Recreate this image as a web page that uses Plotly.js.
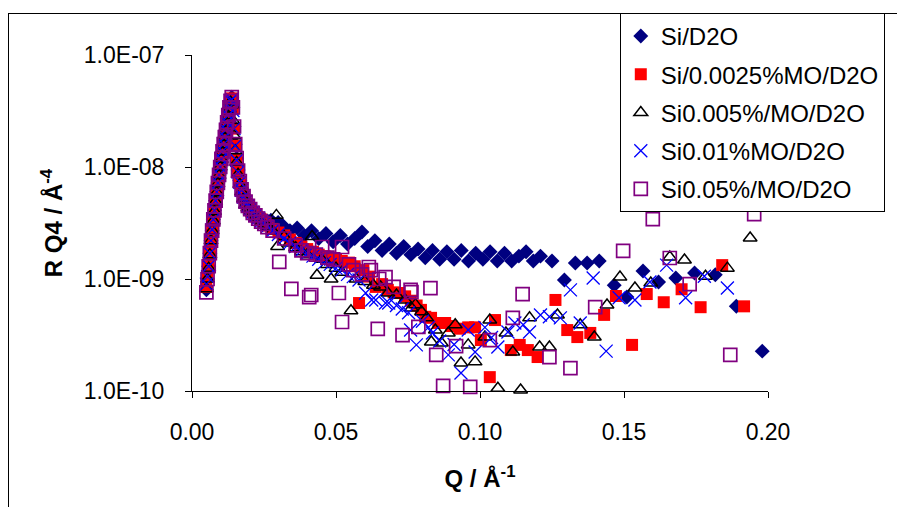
<!DOCTYPE html>
<html>
<head>
<meta charset="utf-8">
<script src="https://cdn.plot.ly/plotly-3.0.1.min.js"></script>
<style>
  html, body { margin: 0; padding: 0; background: #fff; }
  #chart { width: 897px; height: 507px; position: relative; }
  #frame { position: absolute; left: 8px; top: 13px; width: 1000px; height: 600px;
           border-left: 1px solid #000; border-top: 1px solid #000; pointer-events: none; }
</style>
</head>
<body>
<div id="chart"></div>
<div id="frame"></div>
<script>
// ---- Data ----
const seriesNames = ["Si/D2O", "Si/0.0025%MO/D2O", "Si0.005%/MO/D2O", "Si0.01%MO/D2O", "Si0.05%/MO/D2O"];

// Shared Q grid for the dense low-Q region (critical edge)
const qEarly = [0.0050,0.0054,0.0058,0.0062,0.0066,0.0070,0.0074,0.0078,0.0082,0.0086,0.0090,0.0094,0.0098,0.0102,0.0106,0.0110,0.0114,0.0118,0.0122,0.0126,0.0130,0.0134,0.0138,0.0142,0.0146,0.0150,0.0155,0.0160,0.0166,0.0172,0.0179,0.0186,0.0194,0.0202,0.0211,0.0220,0.0230,0.0240,0.0251];

const rEarlySiD2O = [8.0e-10,1.0e-9,1.3e-9,1.7e-9,2.2e-9,2.7e-9,3.4e-9,4.1e-9,5.0e-9,6.0e-9,7.2e-9,8.5e-9,1.0e-8,1.18e-8,1.38e-8,1.6e-8,1.85e-8,2.15e-8,2.5e-8,2.9e-8,3.4e-8,3.9e-8,4.2e-8,3.4e-8,2.3e-8,1.6e-8,1.2e-8,9.4e-9,7.6e-9,6.5e-9,5.7e-9,5.1e-9,4.7e-9,4.4e-9,4.1e-9,3.9e-9,3.7e-9,3.55e-9,3.4e-9];
const rEarlyMO0025 = [8.5e-10,1.05e-9,1.3e-9,1.7e-9,2.15e-9,2.7e-9,3.4e-9,4.1e-9,5.0e-9,6.0e-9,7.1e-9,8.5e-9,1.0e-8,1.17e-8,1.37e-8,1.6e-8,1.85e-8,2.15e-8,2.5e-8,2.9e-8,3.4e-8,3.85e-8,4.1e-8,3.3e-8,2.2e-8,1.55e-8,1.15e-8,9.0e-9,7.3e-9,6.2e-9,5.4e-9,4.9e-9,4.5e-9,4.2e-9,3.95e-9,3.75e-9,3.55e-9,3.4e-9,3.2e-9];
const rEarlyMO005 = [8.2e-10,1.0e-9,1.25e-9,1.65e-9,2.2e-9,2.7e-9,3.3e-9,4.0e-9,4.9e-9,5.9e-9,7.1e-9,8.4e-9,1.0e-8,1.17e-8,1.36e-8,1.58e-8,1.83e-8,2.12e-8,2.45e-8,2.85e-8,3.3e-8,3.8e-8,3.6e-8,2.6e-8,1.9e-8,1.4e-8,1.1e-8,8.6e-9,7.0e-9,6.0e-9,5.2e-9,4.6e-9,4.3e-9,4.0e-9,3.8e-9,3.5e-9,3.4e-9,3.2e-9,3.05e-9];
const rEarlyMO01 = [9.0e-10,1.05e-9,1.3e-9,1.7e-9,2.2e-9,2.75e-9,3.4e-9,4.1e-9,5.0e-9,6.0e-9,7.2e-9,8.5e-9,1.0e-8,1.18e-8,1.38e-8,1.6e-8,1.85e-8,2.15e-8,2.5e-8,2.9e-8,3.4e-8,3.9e-8,4.0e-8,3.2e-8,2.2e-8,1.55e-8,1.15e-8,9.0e-9,7.3e-9,6.2e-9,5.4e-9,4.9e-9,4.5e-9,4.2e-9,3.95e-9,3.7e-9,3.5e-9,3.3e-9,3.15e-9];
const rEarlyMO05 = [7.6e-10,1.0e-9,1.3e-9,1.7e-9,2.2e-9,2.7e-9,3.4e-9,4.1e-9,5.0e-9,6.0e-9,7.2e-9,8.5e-9,1.0e-8,1.18e-8,1.38e-8,1.6e-8,1.85e-8,2.15e-8,2.5e-8,2.9e-8,3.4e-8,3.9e-8,4.2e-8,3.4e-8,2.3e-8,1.6e-8,1.2e-8,9.3e-9,7.5e-9,6.3e-9,5.5e-9,4.9e-9,4.5e-9,4.2e-9,3.9e-9,3.7e-9,3.45e-9,3.25e-9,3.1e-9];

// Higher-Q region, per series
const qLateSiD2O = [0.0262,0.0274,0.0286,0.0299,0.0315,0.0340,0.0365,0.0390,0.0415,0.0440,0.0465,0.0490,0.0515,0.0540,0.0565,0.0590,0.0610,0.0635,0.0660,0.0685,0.0710,0.0735,0.0760,0.0785,0.0810,0.0835,0.0860,0.0885,0.0910,0.0935,0.0960,0.0985,0.1010,0.1035,0.1060,0.1085,0.1110,0.1135,0.1160,0.1185,0.1210,0.1250,0.1293,0.1331,0.1372,0.1414,0.1466,0.1510,0.1566,0.1620,0.1680,0.1745,0.1817,0.1890,0.1980];
const rLateSiD2O = [3.3e-9,3.35e-9,3.1e-9,3.2e-9,3.0e-9,2.7e-9,2.85e-9,2.45e-9,2.7e-9,2.3e-9,2.55e-9,2.15e-9,2.45e-9,2.05e-9,2.3e-9,2.63e-9,1.95e-9,2.2e-9,1.8e-9,2.05e-9,1.7e-9,1.95e-9,1.65e-9,1.85e-9,1.55e-9,1.8e-9,1.5e-9,1.75e-9,1.5e-9,1.8e-9,1.45e-9,1.7e-9,1.5e-9,1.75e-9,1.45e-9,1.7e-9,1.45e-9,1.6e-9,1.75e-9,1.45e-9,1.6e-9,1.45e-9,9.8e-10,1.39e-9,1.39e-9,1.45e-9,8.8e-10,6.9e-10,1.18e-9,9.4e-10,1.02e-9,1.13e-9,1.09e-9,5.7e-10,2.27e-10];

const qLateMO0025 = [0.0262,0.0280,0.0300,0.0320,0.0340,0.0360,0.0380,0.0400,0.0420,0.0440,0.0460,0.0480,0.0500,0.0520,0.0545,0.0565,0.0580,0.0595,0.0615,0.0638,0.0660,0.0680,0.0700,0.0717,0.0740,0.0760,0.0780,0.0795,0.0810,0.0830,0.0855,0.0879,0.0900,0.0930,0.0959,0.0983,0.1003,0.1034,0.1052,0.1107,0.1138,0.1166,0.1200,0.1262,0.1303,0.1338,0.1383,0.1431,0.1472,0.1528,0.1579,0.1638,0.1700,0.1766,0.1841,0.1917];
const rLateMO0025 = [3.0e-9,2.8e-9,2.6e-9,2.45e-9,2.25e-9,2.1e-9,1.95e-9,1.85e-9,1.75e-9,1.65e-9,1.6e-9,1.55e-9,1.5e-9,1.45e-9,1.4e-9,1.3e-9,6.1e-10,1.2e-9,1.05e-9,8.5e-10,9.0e-10,8.0e-10,7.6e-10,7.5e-10,7.0e-10,6.4e-10,5.8e-10,5.3e-10,4.6e-10,4.5e-10,4.05e-10,4.05e-10,3.8e-10,3.6e-10,3.7e-10,3.7e-10,2.85e-10,1.33e-10,4.3e-10,2.32e-10,2.58e-10,2.32e-10,2.01e-10,6.5e-10,3.5e-10,3.03e-10,3.3e-10,4.78e-10,7.05e-10,2.58e-10,7.34e-10,6.2e-10,8.1e-10,5.6e-10,1.33e-9,5.7e-10];

const qLateMO005 = [0.0262,0.0280,0.0293,0.0297,0.0320,0.0340,0.0360,0.0380,0.0400,0.0417,0.0434,0.0450,0.0470,0.0483,0.0500,0.0520,0.0552,0.0570,0.0600,0.0630,0.0655,0.0680,0.0710,0.0740,0.0762,0.0776,0.0797,0.0815,0.0831,0.0845,0.0866,0.0890,0.0914,0.0934,0.0959,0.0983,0.1017,0.1034,0.1062,0.1090,0.1114,0.1141,0.1172,0.1207,0.1241,0.1269,0.1348,0.1397,0.1441,0.1486,0.1538,0.1593,0.1659,0.1710,0.1783,0.1859,0.1938];
const rLateMO005 = [2.95e-9,2.7e-9,3.7e-9,1.95e-9,2.4e-9,2.1e-9,1.9e-9,1.75e-9,1.65e-9,2.4e-9,1.08e-9,1.5e-9,1.35e-9,1.0e-9,1.25e-9,1.15e-9,5.2e-10,1.0e-9,9.5e-10,8.8e-10,8.5e-10,7.5e-10,7.2e-10,6.5e-10,5.5e-10,5.9e-10,5.1e-10,4.5e-10,2.74e-10,3.5e-10,2.68e-10,3.3e-10,3.9e-10,1.78e-10,2.58e-10,1.82e-10,3.03e-10,4.3e-10,1.06e-10,3.3e-10,2.23e-10,1.02e-10,4.5e-10,2.47e-10,2.47e-10,4.77e-10,3.9e-10,3.03e-10,5.85e-10,1.04e-9,8.3e-10,9.2e-10,1.57e-9,1.48e-9,1.06e-9,1.25e-9,2.32e-9];

const qLateMO01 = [0.0262,0.0280,0.0300,0.0320,0.0340,0.0360,0.0380,0.0400,0.0420,0.0440,0.0460,0.0480,0.0500,0.0520,0.0540,0.0560,0.0580,0.0603,0.0624,0.0638,0.0672,0.0683,0.0710,0.0730,0.0752,0.0759,0.0779,0.0800,0.0821,0.0835,0.0860,0.0890,0.0910,0.0934,0.0959,0.0983,0.1017,0.1040,0.1062,0.1097,0.1121,0.1150,0.1172,0.1210,0.1241,0.1279,0.1314,0.1348,0.1393,0.1438,0.1483,0.1538,0.1590,0.1648,0.1714,0.1779,0.1859];
const rLateMO01 = [2.95e-9,2.7e-9,2.5e-9,2.3e-9,2.1e-9,1.95e-9,1.8e-9,1.7e-9,1.6e-9,1.5e-9,1.4e-9,1.35e-9,1.25e-9,1.2e-9,1.1e-9,1.05e-9,9.8e-10,7.5e-10,6.5e-10,6.5e-10,6.1e-10,6.1e-10,5.8e-10,5.4e-10,5.0e-10,3.5e-10,2.58e-10,4.2e-10,3.7e-10,3.3e-10,2.8e-10,2.1e-10,2.6e-10,1.45e-10,3.5e-10,2.23e-10,3.7e-10,3.0e-10,2.47e-10,3.36e-10,4.05e-10,3.9e-10,3.36e-10,4.77e-10,4.6e-10,4.5e-10,8.0e-10,4.05e-10,1.02e-9,2.27e-10,6.8e-10,6.5e-10,9.4e-10,1.33e-9,6.8e-10,1.06e-9,8.3e-10];

const qLateMO05 = [0.0262,0.0280,0.0303,0.0320,0.0345,0.0360,0.0380,0.0400,0.0407,0.0414,0.0430,0.0452,0.0470,0.0490,0.0510,0.0521,0.0521,0.0545,0.0560,0.0590,0.0614,0.0621,0.0645,0.0650,0.0672,0.0700,0.0731,0.0759,0.0762,0.0786,0.0828,0.0848,0.0872,0.0917,0.0966,0.1034,0.1114,0.1148,0.1241,0.1314,0.1400,0.1497,0.1600,0.1659,0.1728,0.1869,0.1952];
const rLateMO05 = [2.9e-9,2.7e-9,1.42e-9,2.3e-9,8.15e-10,2.0e-9,1.8e-9,1.7e-9,6.9e-10,7.2e-10,1.65e-9,1.93e-9,1.55e-9,1.5e-9,7.5e-10,1.93e-9,4.13e-10,1.35e-9,1.2e-9,1.1e-9,1.28e-9,1.2e-9,3.58e-10,1.0e-9,1.04e-9,8.5e-10,3.16e-10,8.0e-10,7.65e-10,3.73e-10,8.3e-10,2.1e-10,1.11e-10,2.52e-10,1.09e-10,2.85e-10,4.49e-10,7.34e-10,2.01e-10,1.6e-10,5.6e-10,1.78e-9,3.43e-9,1.54e-9,9.0e-10,2.1e-10,3.8e-9];

// Axis ticks
const xTickVals = [0, 0.05, 0.10, 0.15, 0.20];
const xTickText = ["0.00", "0.05", "0.10", "0.15", "0.20"];
const yTickVals = [1e-10, 1e-9, 1e-8, 1e-7];
const yTickText = ["1.0E-10", "1.0E-09", "1.0E-08", "1.0E-07"];

// ---- Styling ----
const FONT = '"Liberation Sans", Arial, Helvetica, sans-serif';
const markerStyles = [
  {symbol: 'diamond', color: '#000080', size: 11.5},
  {symbol: 'square', color: '#FF0000', size: 12},
  {symbol: 'triangle-up-open', color: '#000000', size: 12, line: {color: '#000000', width: 1.5}},
  {symbol: 'x-thin-open', color: '#0000FF', size: 13, line: {color: '#0000FF', width: 1.3}},
  {symbol: 'square-open', color: '#800080', size: 13, line: {color: '#800080', width: 1.7}}
];
const xs = [qEarly.concat(qLateSiD2O), qEarly.concat(qLateMO0025), qEarly.concat(qLateMO005), qEarly.concat(qLateMO01), qEarly.concat(qLateMO05)];
const ys = [rEarlySiD2O.concat(rLateSiD2O), rEarlyMO0025.concat(rLateMO0025), rEarlyMO005.concat(rLateMO005), rEarlyMO01.concat(rLateMO01), rEarlyMO05.concat(rLateMO05)];

const traces = seriesNames.map((name, i) => ({
  type: 'scatter', mode: 'markers', name: name,
  x: xs[i], y: ys[i],
  legendgroup: 'g' + i,
  marker: markerStyles[i],
  cliponaxis: false
}));

const layout = {
  width: 897, height: 507,
  margin: {l: 192, r: 126, t: 55, b: 116},
  paper_bgcolor: '#ffffff', plot_bgcolor: '#ffffff',
  font: {family: FONT, color: '#000000', size: 23},
  showlegend: true,
  legend: {
    x: 0.7427, xanchor: 'left', y: 1.125, yanchor: 'top',
    bgcolor: '#ffffff', bordercolor: '#000000', borderwidth: 1,
    font: {family: FONT, size: 24, color: '#000000'},
    tracegroupgap: 4, itemwidth: 30
  },
  xaxis: {
    range: [0, 0.2], tickvals: xTickVals, ticktext: xTickText,
    ticks: 'outside', ticklen: 6, tickcolor: '#000', tickwidth: 1,
    showline: true, linecolor: '#000', linewidth: 1,
    showgrid: false, zeroline: false,
    tickfont: {family: FONT, size: 23},
    ticklabelstandoff: 14,
    title: {text: '<b>Q / Å<sup>-1</sup></b>', font: {family: FONT, size: 24}, standoff: 26}
  },
  yaxis: {
    type: 'log', range: [-10, -7], tickvals: yTickVals, ticktext: yTickText,
    ticks: 'outside', ticklen: 6, tickcolor: '#000', tickwidth: 1,
    showline: true, linecolor: '#000', linewidth: 1,
    showgrid: false, zeroline: false,
    tickfont: {family: FONT, size: 23},
    ticklabelstandoff: 16,
    title: {text: '<b>R Q4 / Å<sup>-4</sup></b>', font: {family: FONT, size: 24}, standoff: 14}
  }
};

Plotly.newPlot('chart', traces, layout, {displayModeBar: false, staticPlot: true});
</script>
</body>
</html>
